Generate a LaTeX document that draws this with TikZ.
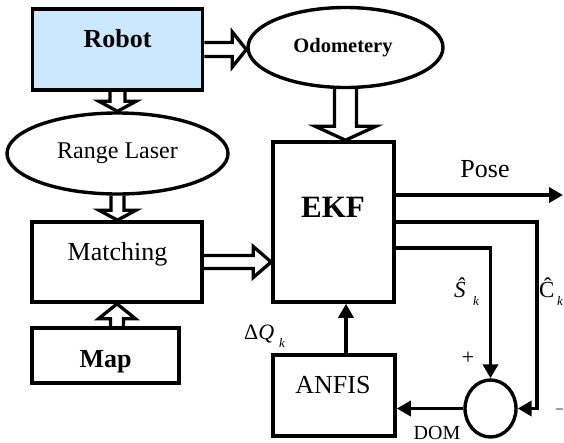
\documentclass[tikz,border=0pt]{standalone}
\usepackage{fontspec}
\setmainfont{Liberation Serif}
\usetikzlibrary{calc,arrows.meta,shapes.geometric}
\definecolor{robotblue}{RGB}{204,232,255}
\newcommand\fs[1]{\fontsize{#1}{#1}\selectfont}
% hollow block arrow: #1 from, #2 to, #3 body half width, #4 head half width, #5 head length
\newcommand\blockarrow[5]{%
  \draw[hollowarr] let \p1=(#1), \p2=(#2), \p3=($(#2)!#5!(#1)$) in
    ($(\p1)!#3!90:(\p2)$) -- ($(\p3)!#3!90:(\p2)$) -- ($(\p3)!#4!90:(\p2)$) -- (\p2)
    -- ($(\p3)!#4!-90:(\p2)$) -- ($(\p3)!#3!-90:(\p2)$) -- ($(\p1)!#3!-90:(\p2)$);}
\begin{document}
\begin{tikzpicture}[x=1pt,y=-1pt]
\tikzset{
  box/.style={draw, line width=3.6pt, rectangle, inner sep=0pt},
  oval/.style={draw, line width=3.4pt, ellipse, inner sep=0pt},
  lbl/.style={inner sep=0pt, anchor=base},
  conn/.style={line width=3.6pt, -{Triangle[length=14pt,width=15pt]}},
  hollowarr/.style={line width=3.3pt, line join=miter},
}
\path[use as bounding box, fill=white] (0,0) rectangle (564,442);

% blocks
\node[box, fill=robotblue, minimum width=170pt, minimum height=81pt] (robot) at (117.5,49.5) {};
\node[oval, minimum width=195pt, minimum height=80pt] (odo) at (345.5,47.5) {};
\node[oval, minimum width=221pt, minimum height=81pt] (range) at (117.5,153.5) {};
\node[box, minimum width=170pt, minimum height=80pt] (matching) at (117,262) {};
\node[box, minimum width=147pt, minimum height=55pt] (map) at (105.5,355.5) {};
\node[box, minimum width=121pt, minimum height=160pt] (ekf) at (333.5,222) {};
\node[box, minimum width=122pt, minimum height=81pt] (anfis) at (334,395.5) {};
\node[oval, minimum width=51pt, minimum height=57pt] (circ) at (490.5,408.5) {};

% texts
\node[lbl] (trobot) at (117.5,47) {\fs{26}\bfseries Robot};
\node[lbl] (todo) at (343,52) {\fs{20.5}\bfseries Odometery};
\node[lbl] (trange) at (117.5,158) {\fs{24}Range Laser};
\node[lbl] (tmatch) at (117.5,260) {\fs{26}Matching};
\node[lbl] (tmap) at (105.5,367) {\fs{26}\bfseries Map};
\node[lbl] (tekf) at (333,217) {\fs{31}\bfseries EKF};
\node[lbl] (tanfis) at (333,393) {\fs{26}ANFIS};
\node[lbl] (tpose) at (485,177) {\fs{26}Pose};
\node[lbl] (tdom) at (437,439) {\fs{20}DOM};
\node[lbl, anchor=base west] (tdq) at (244,339) {\fs{22}Δ\textit{Q}};
\node[lbl, anchor=base west] (tdqk) at (279,347) {\fs{13}\textit{k}};
\node[lbl, anchor=base west] (ts) at (454,297) {\fs{23}\textit{Ŝ}};
\node[lbl, anchor=base west] (tsk) at (473,305) {\fs{13}\textit{k}};
\node[lbl, anchor=base west] (tc) at (539,297) {\fs{23}Ĉ};
\node[lbl, anchor=base west] (tck) at (557,305) {\fs{13}\textit{k}};
\node[lbl] (tplus) at (468,364) {\fs{22}+};
\node[lbl, anchor=base east] (tminus) at (564,414) {\fs{15}−};

% hollow arrows
\blockarrow{robot.east}{robot.east -| odo.west}{7pt}{17.5pt}{14pt}
\blockarrow{robot.south}{range.north}{7.5pt}{18.5pt}{10pt}
\blockarrow{range.south}{range.south |- matching.north}{6.5pt}{18.5pt}{10pt}
\blockarrow{matching.south |- map.north}{matching.south}{6.5pt}{18.5pt}{15pt}
\blockarrow{odo.south}{odo.south |- ekf.north}{11pt}{30.5pt}{14pt}
\blockarrow{matching.east}{matching.east -| ekf.west}{6.5pt}{15.5pt}{18pt}

% connectors
\coordinate (poseend) at (563,195);
\coordinate (ccorner) at (537,222);
\coordinate (scorner) at (490.5,248);
\coordinate (qstart) at (346,355);
\draw[conn] (poseend -| ekf.east) -- (poseend);
\draw[conn] (ekf.east) -- (ccorner) |- (circ.east);
\draw[conn] (scorner -| ekf.east) -- (scorner) -- (circ.north);
\draw[conn] (circ.west) -- (circ.west -| anfis.east);
\draw[conn] (qstart) -- (qstart |- ekf.south);
\end{tikzpicture}
\end{document}
